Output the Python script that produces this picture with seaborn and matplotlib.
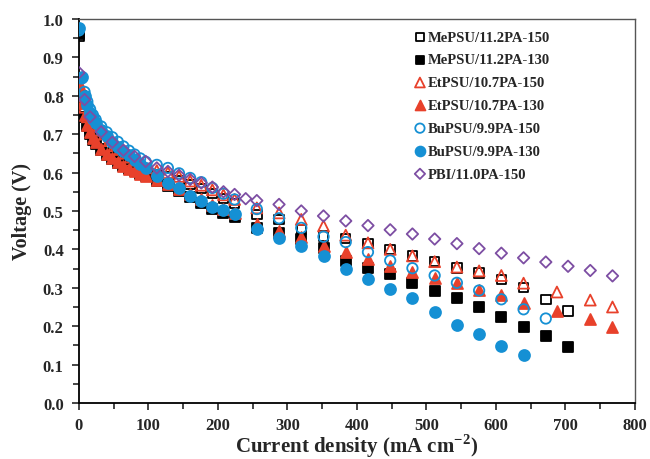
# polarization curves: voltage vs current density for the PA-doped membranes
import numpy as np
import pandas as pd
import matplotlib
matplotlib.use('Agg')
import matplotlib.pyplot as plt
import seaborn as sns
from matplotlib.ticker import MultipleLocator, FormatStrFormatter

# current density (mA cm-2)
x_me = [0, 4, 8, 12, 16, 20, 24, 32, 40, 48, 56, 64, 72, 80, 88, 96, 112, 128, 144, 160,
        176, 192, 208, 224, 256, 288, 320, 352, 384, 416, 448, 480, 512, 544, 576, 608,
        640, 672, 704]
x_bu150 = x_me[:38]
x_bu130 = x_me[:37]
x_et = x_me[:37] + [688, 736, 768]
x_pbi = [0, 8, 16, 32, 48, 64, 80, 96, 112, 128, 144, 160, 176, 192, 208, 224, 240, 256,
         288, 320, 352, 384, 416, 448, 480, 512, 544, 576, 608, 640, 672, 704, 736, 768]

# voltage (V)
v_me150 = [0.955, 0.80, 0.76, 0.735, 0.715, 0.70, 0.69, 0.675, 0.663, 0.652, 0.642, 0.633,
           0.625, 0.617, 0.61, 0.603, 0.595, 0.588, 0.578, 0.569, 0.558, 0.545, 0.533, 0.520,
           0.491, 0.478, 0.452, 0.435, 0.428, 0.415, 0.400, 0.383, 0.368, 0.352, 0.338,
           0.322, 0.300, 0.270, 0.240]
v_me130 = [0.96, 0.79, 0.745, 0.72, 0.70, 0.685, 0.675, 0.658, 0.645, 0.635, 0.625, 0.617,
           0.61, 0.603, 0.597, 0.59, 0.578, 0.565, 0.551, 0.537, 0.522, 0.505, 0.495, 0.484,
           0.456, 0.443, 0.426, 0.404, 0.371, 0.352, 0.335, 0.313, 0.292, 0.274, 0.251,
           0.223, 0.199, 0.175, 0.145]
v_et150 = [0.835, 0.80, 0.77, 0.745, 0.725, 0.71, 0.70, 0.683, 0.67, 0.66, 0.65, 0.64,
           0.632, 0.625, 0.618, 0.612, 0.605, 0.60, 0.59, 0.578, 0.567, 0.555, 0.542, 0.530,
           0.508, 0.495, 0.478, 0.461, 0.437, 0.417, 0.400, 0.383, 0.368, 0.354, 0.344,
           0.332, 0.312, 0.289, 0.268, 0.250]
v_et130 = [0.83, 0.78, 0.75, 0.725, 0.705, 0.69, 0.68, 0.662, 0.648, 0.637, 0.627, 0.618,
           0.61, 0.603, 0.597, 0.59, 0.58, 0.57, 0.557, 0.545, 0.530, 0.515, 0.505, 0.495,
           0.465, 0.448, 0.433, 0.409, 0.393, 0.374, 0.357, 0.341, 0.326, 0.312, 0.294,
           0.281, 0.260, 0.240, 0.220, 0.199]
v_bu150 = [0.97, 0.845, 0.81, 0.785, 0.765, 0.75, 0.738, 0.72, 0.705, 0.692, 0.68, 0.668,
           0.657, 0.647, 0.637, 0.628, 0.62, 0.612, 0.598, 0.586, 0.575, 0.560, 0.545, 0.530,
           0.505, 0.481, 0.456, 0.433, 0.419, 0.393, 0.371, 0.351, 0.332, 0.313, 0.293,
           0.270, 0.244, 0.220]
v_bu130 = [0.976, 0.85, 0.80, 0.775, 0.755, 0.74, 0.728, 0.71, 0.695, 0.68, 0.667, 0.655,
           0.645, 0.633, 0.623, 0.612, 0.59, 0.573, 0.560, 0.540, 0.526, 0.511, 0.502, 0.491,
           0.454, 0.430, 0.409, 0.384, 0.348, 0.322, 0.296, 0.273, 0.237, 0.203, 0.179,
           0.149, 0.125]
v_pbi = [0.86, 0.79, 0.745, 0.706, 0.679, 0.658, 0.642, 0.629, 0.612, 0.603, 0.593, 0.582,
         0.573, 0.562, 0.550, 0.543, 0.532, 0.527, 0.517, 0.500, 0.487, 0.474, 0.462, 0.451,
         0.440, 0.427, 0.415, 0.402, 0.390, 0.378, 0.367, 0.356, 0.345, 0.331]

labels = ['MePSU/11.2PA-150', 'MePSU/11.2PA-130', 'EtPSU/10.7PA-150', 'EtPSU/10.7PA-130',
          'BuPSU/9.9PA-150', 'BuPSU/9.9PA-130', 'PBI/11.0PA-150']

red = '#e8412b'
blue = '#1590d4'
purple = '#7d4ea3'
# (x, y, marker, colour, filled, size)
series = [
    (x_me, v_me150, 's', 'black', False, 46),
    (x_me, v_me130, 's', 'black', True, 46),
    (x_et, v_et150, '^', red, False, 62),
    (x_et, v_et130, '^', red, True, 62),
    (x_bu150, v_bu150, 'o', blue, False, 56),
    (x_bu130, v_bu130, 'o', blue, True, 62),
    (x_pbi, v_pbi, 'D', purple, False, 34),
]

sns.set_style('ticks')
plt.rcParams['font.family'] = ['Liberation Serif', 'DejaVu Serif']
plt.rcParams['font.weight'] = 'bold'
plt.rcParams['mathtext.fontset'] = 'custom'
plt.rcParams['mathtext.rm'] = 'Liberation Serif:bold'
plt.rcParams['mathtext.bf'] = 'Liberation Serif:bold'

fig = plt.figure(figsize=(6.5, 4.6), dpi=100)
ax = fig.add_axes([0.1215, 0.1217, 0.855, 0.835])

for (xs, ys, m, c, filled, s), lab in zip(series, labels):
    df = pd.DataFrame({'Current': xs, 'Voltage': ys})
    sns.scatterplot(data=df, x='Current', y='Voltage', ax=ax, marker=m, s=s,
                    facecolor=c if filled else 'none', edgecolor=c,
                    linewidth=1.3, label=lab, zorder=3)

ax.set_xlim(0, 800)
ax.set_ylim(0, 1.0)
ax.xaxis.set_major_locator(MultipleLocator(100))
ax.xaxis.set_minor_locator(MultipleLocator(50))
ax.yaxis.set_major_locator(MultipleLocator(0.1))
ax.yaxis.set_minor_locator(MultipleLocator(0.05))
ax.yaxis.set_major_formatter(FormatStrFormatter('%.1f'))
ax.tick_params(which='both', direction='out', top=False, right=False,
               labelsize=12, width=1.2)
ax.tick_params(axis='x', pad=5)
ax.tick_params(axis='y', pad=6)
ax.tick_params(which='major', length=5)
ax.tick_params(which='minor', length=4)
for lab in ax.get_xticklabels() + ax.get_yticklabels():
    lab.set_fontweight('bold')

for side in ['left', 'bottom']:
    ax.spines[side].set_linewidth(1.3)
    ax.spines[side].set_color('black')
for side in ['top', 'right']:
    ax.spines[side].set_linewidth(1.0)
    ax.spines[side].set_color('#555555')

ax.set_xlabel(r'Current density (mA cm$^{-2}$)', fontsize=15, fontweight='bold', labelpad=-1)
ax.set_ylabel('Voltage (V)', fontsize=14.5, fontweight='bold', labelpad=8)

leg = ax.legend(loc='upper left', bbox_to_anchor=(0.603, 0.97), frameon=False,
                prop={'weight': 'bold', 'size': 10.5}, handlelength=0.8,
                handletextpad=0.15, labelspacing=0.66, borderpad=0, borderaxespad=0,
                markerscale=0.9)

fig.savefig('out.png', dpi=100)
